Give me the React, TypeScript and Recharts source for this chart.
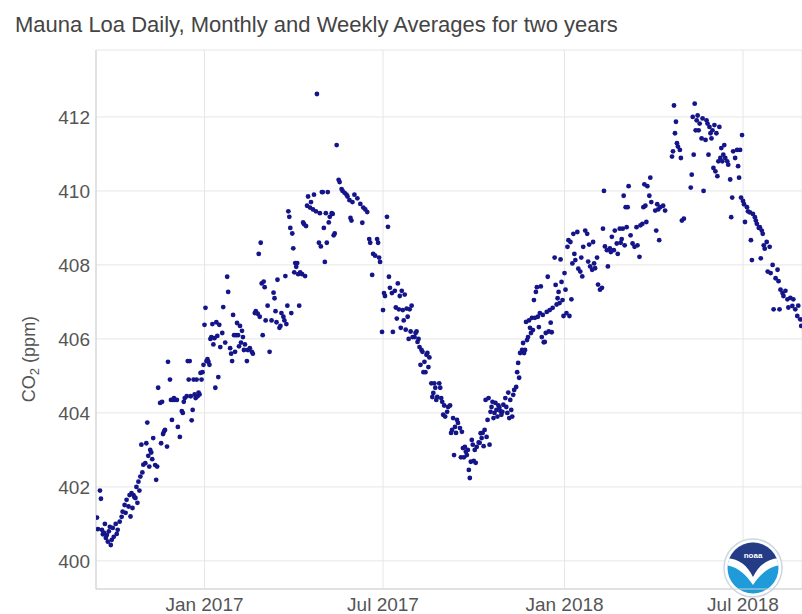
import React from 'react';
import { ScatterChart, Scatter, XAxis, YAxis, CartesianGrid, Customized } from 'recharts';

// Daily CO2 readings at Mauna Loa, grouped by month: [day of month, ppm]
type Reading = [number, number];

const sep2016: Reading[] = [[14,401.17],[15,400.86],[17,401.9],[18,401.68],[19,400.84],[20,400.72],[21,400.76],[22,401.0],[23,400.62],[24,400.7],[25,400.52],[26,400.8],[27,400.92],[28,400.43],[29,400.57],[30,400.89]];
const oct2016: Reading[] = [[1,400.65],[3,401.0],[4,400.73],[5,400.84],[7,401.06],[9,401.19],[10,401.33],[12,401.51],[13,401.3],[14,401.65],[16,401.47],[17,401.78],[18,401.2],[19,401.83],[20,401.43],[21,401.78],[22,401.72],[23,401.7],[24,402.0],[25,401.57],[26,402.14],[27,401.9],[28,402.28],[29,403.14],[30,402.39],[31,402.6]];
const nov2016: Reading[] = [[2,402.64],[3,403.18],[4,403.74],[5,402.84],[6,402.55],[7,403.0],[8,402.93],[9,402.75],[10,403.32],[12,402.59],[13,402.19],[14,402.55],[15,404.68],[17,404.27],[18,403.18],[19,404.3],[20,403.43],[21,403.5],[22,403.54],[24,403.09],[25,405.38],[27,404.9],[28,404.35],[29,403.81],[30,404.35]];
const dec2016: Reading[] = [[1,404.4],[2,404.35],[4,404.35],[5,403.62],[7,403.35],[9,404.05],[10,404.0],[11,404.3],[12,404.4],[14,404.45],[15,405.4],[16,404.9],[17,405.4],[18,404.45],[19,403.8],[20,404.08],[21,404.9],[22,404.5],[23,404.4],[24,404.9],[25,404.45],[26,404.55],[27,404.5],[28,405.08],[29,404.9],[30,405.1],[31,405.3]];
const jan2017: Reading[] = [[1,406.38],[2,406.84],[3,405.4],[4,405.45],[5,405.38],[6,405.3],[7,406.0],[8,406.05],[9,406.4],[10,405.85],[11,406.02],[12,404.68],[13,406.45],[14,406.08],[15,404.97],[16,406.38],[17,405.78],[19,406.16],[20,406.86],[22,405.9],[24,407.68],[25,407.27],[27,405.75],[28,405.6],[29,405.4],[30,406.65],[31,406.1]];
const feb2017: Reading[] = [[1,405.65],[2,406.1],[3,406.43],[4,406.1],[5,405.8],[6,406.35],[7,405.9],[8,406.22],[9,406.05],[10,405.7],[11,405.85],[13,405.4],[14,405.7],[16,405.75],[18,405.65],[19,405.6],[21,406.7],[22,406.75],[24,406.68],[25,408.3],[26,406.6],[27,408.6],[28,407.5]];
const mar2017: Reading[] = [[1,406.1],[2,407.55],[3,407.4],[4,406.5],[6,406.9],[8,405.65],[10,406.5],[12,407.25],[13,407.1],[14,406.75],[15,406.45],[16,407.6],[18,406.3],[19,406.35],[20,406.7],[22,406.6],[23,406.5],[24,407.7],[25,406.4],[26,406.9],[27,409.45],[28,409.3],[29,409.0],[30,406.7],[31,408.85]];
const apr2017: Reading[] = [[1,408.45],[2,407.8],[3,408.05],[4,407.95],[5,408.05],[6,407.75],[7,406.9],[8,407.8],[10,407.75],[11,409.15],[12,409.1],[13,407.7],[14,409.05],[15,409.6],[16,409.85],[18,409.55],[19,409.7],[21,409.5],[22,409.9],[24,409.45],[25,412.62],[27,408.6],[28,409.4],[29,408.5],[30,409.97]];
const may2017: Reading[] = [[1,409.97],[2,409.0],[3,408.08],[4,409.4],[5,408.6],[6,409.97],[7,409.15],[8,409.3],[10,409.4],[11,409.38],[12,408.8],[13,408.85],[15,411.24],[17,410.3],[18,410.24],[20,410.05],[21,410.0],[23,409.95],[25,409.9],[26,409.85],[28,409.75],[29,409.27],[30,409.2],[31,409.7]];
const jun2017: Reading[] = [[2,409.9],[5,409.8],[8,409.65],[10,409.14],[11,409.55],[13,409.5],[15,409.43],[17,408.7],[18,408.6],[20,407.73],[21,408.3],[23,408.25],[25,408.7],[26,408.6],[27,408.2],[28,408.08],[30,406.19]];
const jul2017: Reading[] = [[1,406.78],[2,407.24],[3,407.16],[5,409.3],[6,409.03],[7,407.68],[8,407.38],[10,407.24],[11,406.19],[13,407.3],[14,406.85],[15,406.55],[16,407.5],[17,406.8],[18,407.16],[19,406.3],[20,407.3],[21,406.78],[22,406.5],[23,407.2],[24,406.25],[25,406.82],[26,406.6],[27,406.0],[28,406.8],[29,406.2],[30,406.9],[31,406.05]];
const aug2017: Reading[] = [[2,406.05],[3,406.16],[4,406.2],[5,405.92],[6,406.0],[7,405.78],[8,405.3],[9,405.7],[10,405.65],[11,405.1],[12,405.38],[13,405.1],[14,405.57],[15,405.62],[16,405.24],[17,405.5],[19,404.8],[20,404.43],[21,404.54],[22,404.8],[23,404.68],[24,404.35],[25,404.43],[27,404.8],[28,404.68],[29,404.4],[30,404.3],[31,403.95]];
const sep2017: Reading[] = [[1,404.2],[2,403.9],[4,404.03],[5,404.16],[7,404.2],[8,403.46],[9,403.54],[10,403.86],[11,402.86],[12,403.62],[13,403.46],[14,403.81],[15,403.73],[17,403.59],[18,402.8],[19,403.49],[20,403.05],[21,402.8],[22,403.08],[23,402.95],[24,402.86],[25,403.0],[26,402.46],[27,402.24],[28,402.68],[29,403.27],[30,403.14]];
const oct2017: Reading[] = [[1,402.7],[2,403.0],[3,402.65],[4,403.08],[6,403.2],[7,403.19],[8,403.45],[9,403.32],[10,403.46],[11,403.1],[12,403.54],[13,404.35],[14,403.35],[15,403.81],[16,404.4],[17,403.14],[18,404.03],[19,404.16],[20,404.3],[21,403.86],[22,404.0],[23,404.27],[24,404.08],[25,403.9],[26,404.2],[27,404.14],[28,404.05],[29,403.95],[30,404.03],[31,404.22]];
const nov2017: Reading[] = [[2,404.4],[3,404.16],[4,404.0],[5,404.55],[6,403.86],[7,404.35],[8,404.08],[9,403.9],[10,404.49],[11,404.62],[13,404.7],[14,405.1],[15,405.35],[16,404.95],[17,405.62],[19,405.7],[20,405.89],[21,405.62],[22,405.7],[23,406.46],[24,405.97],[25,406.05],[26,406.5],[27,406.3],[28,406.16],[29,406.57],[30,406.24]];
const dec2017: Reading[] = [[1,407.05],[2,406.57],[3,407.27],[4,407.4],[5,406.6],[6,406.32],[7,406.7],[8,407.42],[9,406.05],[10,406.65],[11,405.91],[12,405.92],[13,406.16],[14,406.73],[15,407.68],[16,406.2],[17,406.78],[18,406.44],[19,406.18],[20,406.84],[22,408.2],[23,407.46],[24,406.93],[25,407.1],[26,407.27],[27,406.97],[28,408.15],[29,407.54],[30,407.05],[31,406.62]];
const jan2018: Reading[] = [[1,407.78],[2,407.33],[3,406.7],[4,408.49],[5,408.67],[6,406.62],[7,408.62],[8,407.07],[9,408.04],[10,408.84],[11,408.3],[12,408.13],[14,408.89],[15,407.9],[17,407.82],[18,408.2],[19,407.69],[20,408.49],[22,408.93],[24,408.84],[25,408.09],[26,408.55],[27,407.96],[29,407.87],[30,408.62],[31,408.04]];
const feb2018: Reading[] = [[1,407.91],[3,408.2],[4,407.47],[6,407.33],[8,407.38],[9,408.98],[10,410.0],[11,408.5],[13,408.4],[14,407.96],[16,408.45],[17,408.35],[18,408.76],[20,408.4],[21,408.93],[23,408.58],[24,408.3],[26,408.98],[27,408.6],[28,408.7]];
const mar2018: Reading[] = [[1,408.98],[2,409.87],[3,408.53],[4,409.56],[5,409.02],[6,409.56],[7,410.13],[9,408.8],[11,408.58],[13,408.49],[15,409.02],[16,408.53],[18,408.22],[19,409.07],[21,409.11],[22,409.56],[23,410.18],[24,409.6],[25,409.16],[26,410.13],[28,409.87],[29,410.36],[30,409.7]];
const apr2018: Reading[] = [[3,409.47],[4,408.93],[5,409.64],[6,409.5],[7,408.67],[8,409.56],[11,409.6],[13,409.47],[20,410.93],[21,411.07],[22,412.31],[23,411.56],[24,411.87],[25,411.29],[26,411.2],[28,411.11],[29,410.89],[30,409.2]];
const may2018: Reading[] = [[2,409.25],[9,410.09],[10,410.44],[11,412.0],[12,410.98],[13,412.36],[14,411.64],[15,411.91],[16,412.04],[17,411.64],[18,411.82],[20,411.42],[21,411.96],[22,410.0],[24,411.38],[25,411.91],[26,411.82],[27,410.98],[28,411.73],[29,411.56],[30,411.42],[31,411.64]];
const jun2018: Reading[] = [[1,410.62],[2,411.78],[3,410.53],[4,411.56],[5,410.4],[6,410.8],[7,411.73],[8,410.89],[9,411.16],[10,410.8],[11,410.98],[12,411.24],[13,410.89],[15,410.8],[16,410.71],[18,410.31],[19,409.29],[20,409.82],[21,411.07],[23,410.89],[25,411.11],[26,410.67],[27,410.36],[28,411.11],[29,409.82],[30,411.51]];
const jul2018: Reading[] = [[1,409.73],[2,409.64],[3,409.16],[5,409.56],[6,409.45],[8,409.42],[9,408.67],[10,408.13],[11,409.38],[13,409.29],[14,409.2],[15,409.11],[17,409.0],[18,409.02],[19,408.18],[20,408.93],[21,408.84],[22,408.53],[23,408.44],[25,408.62],[26,407.82],[28,408.49],[29,407.78],[31,408.0]];
const aug2018: Reading[] = [[1,406.8],[3,407.64],[5,407.87],[6,407.56],[7,406.8],[8,407.33],[10,407.24],[11,407.16],[13,407.3],[15,407.07],[16,406.85],[18,407.11],[20,406.89],[21,407.07],[23,406.8],[25,406.62],[26,406.9],[28,406.53],[29,406.35]];

// [year, month index, readings]
const months: [number, number, Reading[]][] = [
  [2016, 8, sep2016], [2016, 9, oct2016], [2016, 10, nov2016], [2016, 11, dec2016],
  [2017, 0, jan2017], [2017, 1, feb2017], [2017, 2, mar2017], [2017, 3, apr2017],
  [2017, 4, may2017], [2017, 5, jun2017], [2017, 6, jul2017], [2017, 7, aug2017],
  [2017, 8, sep2017], [2017, 9, oct2017], [2017, 10, nov2017], [2017, 11, dec2017],
  [2018, 0, jan2018], [2018, 1, feb2018], [2018, 2, mar2018], [2018, 3, apr2018],
  [2018, 4, may2018], [2018, 5, jun2018], [2018, 6, jul2018], [2018, 7, aug2018],
];

const xTicks = [Date.UTC(2017, 0, 1), Date.UTC(2017, 6, 1), Date.UTC(2018, 0, 1), Date.UTC(2018, 6, 1)];
const xTickLabels = ['Jan 2017', 'Jul 2017', 'Jan 2018', 'Jul 2018'];
const yTicks = [400, 402, 404, 406, 408, 410, 412];

const xDomain: [number, number] = [Date.UTC(2016, 8, 13), Date.UTC(2018, 7, 29, 19)];
const yDomain: [number, number] = [399.24, 413.81];

const data = months.flatMap(([year, month, rows]) =>
  rows.map(([day, ppm]) => ({ t: Date.UTC(year, month, day), ppm }))
);

const FONT = '"Liberation Sans", Arial, Helvetica, sans-serif';
const DOT = '#15158a';

const formatX = (v: number) => {
  const i = xTicks.indexOf(v);
  return i >= 0 ? xTickLabels[i] : '';
};

const Dot = (props: any) => {
  const { cx, cy } = props;
  if (cx == null || cy == null) return null;
  return <circle cx={cx} cy={cy} r={2.4} fill={DOT} />;
};

// Title, rotated axis label and the agency badge in the lower right corner
const Decorations = () => {
  const bx = 753;
  const by = 568;
  return (
    <g>
      <text x={15} y={32} fontSize={22} fill="#444" fontFamily={FONT}>
        Mauna Loa Daily, Monthly and Weekly Averages for two years
      </text>
      <text
        x={35}
        y={359}
        transform="rotate(-90 35 359)"
        textAnchor="middle"
        fontSize={18}
        fill="#555"
        fontFamily={FONT}
      >
        CO<tspan fontSize={13} dy={4}>2</tspan>
        <tspan dy={-4}> (ppm)</tspan>
      </text>
      <defs>
        <clipPath id="badge-inner">
          <circle cx={bx} cy={by} r={25.5} />
        </clipPath>
      </defs>
      <circle cx={bx} cy={by} r={29} fill="#fff" stroke="#cdd6e2" strokeWidth={1.5} />
      <g clipPath="url(#badge-inner)">
        <rect x={bx - 27} y={by - 27} width={54} height={54} fill="#1e9bd8" />
        <path
          d={`M ${bx - 27} ${by - 3} C ${bx - 14} ${by - 1} ${bx - 6} ${by + 8} ${bx} ${by + 17} C ${bx + 6} ${by + 8} ${bx + 14} ${by - 1} ${bx + 27} ${by - 3} L ${bx + 27} ${by - 27} L ${bx - 27} ${by - 27} Z`}
          fill="#fff"
        />
        <path
          d={`M ${bx - 27} ${by - 27} L ${bx + 27} ${by - 27} L ${bx + 27} ${by - 10} C ${bx + 14} ${by - 9} ${bx + 6} ${by - 3} ${bx} ${by + 9} C ${bx - 6} ${by - 3} ${bx - 14} ${by - 9} ${bx - 27} ${by - 10} Z`}
          fill="#243c86"
        />
      </g>
      <text x={bx} y={by - 10} textAnchor="middle" fontSize={8} fontWeight="bold" fill="#fff" fontFamily={FONT}>
        noaa
      </text>
    </g>
  );
};

export default function App() {
  return (
    <div style={{ position: 'absolute', left: 0, top: 0, width: 802, height: 614, background: '#fff', overflow: 'hidden' }}>
      <ScatterChart width={802} height={614} margin={{ top: 50, right: 0, bottom: 0, left: 0 }}>
        <CartesianGrid stroke="#e6e6e6" strokeWidth={1} />
        <XAxis
          type="number"
          dataKey="t"
          domain={xDomain}
          allowDataOverflow
          ticks={xTicks}
          interval={0}
          tickFormatter={formatX}
          height={25}
          tickLine={false}
          tickSize={0}
          tickMargin={9}
          axisLine={{ stroke: '#cfcfcf' }}
          tick={{ fill: '#555', fontSize: 19, fontFamily: FONT }}
        />
        <YAxis
          type="number"
          dataKey="ppm"
          domain={yDomain}
          allowDataOverflow
          ticks={yTicks}
          interval={0}
          width={96}
          tickLine={false}
          tickSize={0}
          tickMargin={6}
          axisLine={{ stroke: '#cfcfcf' }}
          tick={{ fill: '#555', fontSize: 19, fontFamily: FONT }}
        />
        <Scatter data={data} shape={Dot} isAnimationActive={false} />
        <Customized component={Decorations} />
      </ScatterChart>
    </div>
  );
}
